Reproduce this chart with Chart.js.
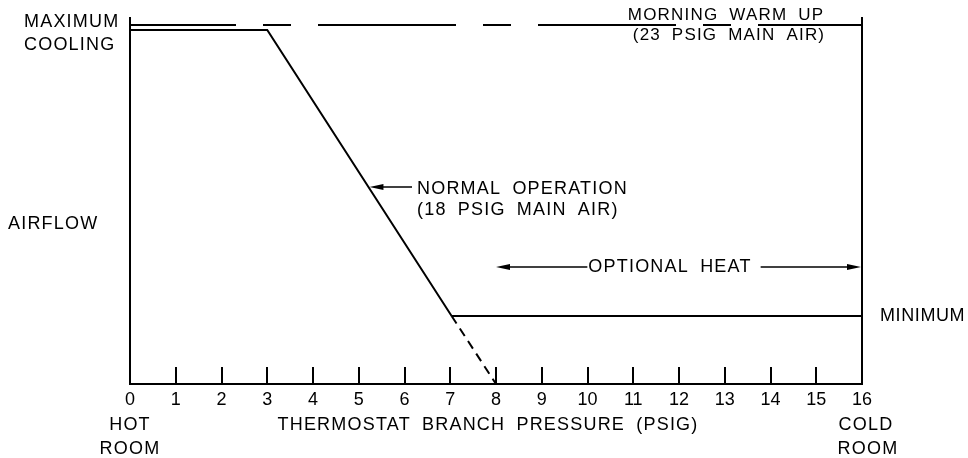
<!DOCTYPE html>
<html>
<head>
<meta charset="utf-8">
<script src="https://cdn.jsdelivr.net/npm/chart.js@4"></script>
<style>
  html, body { margin: 0; padding: 0; background: #fff; }
  #wrap { width: 968px; height: 458px; }
</style>
</head>
<body>
<div id="wrap"><canvas id="c" width="968" height="458"></canvas></div>
<script>
// ---- data ----
const xTickValues = [0, 1, 2, 3, 4, 5, 6, 7, 8, 9, 10, 11, 12, 13, 14, 15, 16];
const xTickLabels = ['0','1','2','3','4','5','6','7','8','9','10','11','12','13','14','15','16'];
// airflow in relative units 0..100
const normalX = [0, 3, 7.03];
const normalY = [96.7, 96.7, 18.6];
const extensionX = [7.03, 8];
const extensionY = [18.6, 0];
const minimumX = [7.03, 16];
const minimumY = [18.6, 18.6];
const warmUpX = [0, 16];
const warmUpY = [98.1, 98.1];
const optionalHeatRange = [8, 16];

const pts = (xs, ys) => xs.map((x, i) => ({ x, y: ys[i] }));

Chart.defaults.font.family = "'Liberation Sans', Arial, sans-serif";
Chart.defaults.color = '#000';

function arrowHead(ctx, x, y, dir) {
  ctx.beginPath();
  ctx.moveTo(x, y);
  ctx.lineTo(x - dir * 14, y - 3);
  ctx.lineTo(x - dir * 14, y + 3);
  ctx.closePath();
  ctx.fill();
}

const annot = {
  id: 'annot',
  afterDraw(chart) {
    const ctx = chart.ctx;
    const xs = chart.scales.x, ys = chart.scales.y;
    const area = chart.chartArea;
    ctx.save();
    ctx.strokeStyle = '#000';
    ctx.fillStyle = '#000';
    ctx.lineWidth = 2;
    // inward tick marks
    xTickValues.forEach(v => {
      if (v === 0 || v === 16) return;
      const px = Math.round(xs.getPixelForValue(v));
      ctx.beginPath();
      ctx.moveTo(px, area.bottom);
      ctx.lineTo(px, area.bottom - 17);
      ctx.stroke();
    });
    const text = (s, x, y, align, size, ls) => {
      ctx.font = (size || 18) + "px 'Liberation Sans', Arial, sans-serif";
      ctx.textAlign = align || 'left';
      ctx.textBaseline = 'middle';
      ctx.letterSpacing = (ls === undefined ? 1.2 : ls) + 'px';
      ctx.wordSpacing = '5px';
      ctx.fillText(s, x, y);
      return ctx.measureText(s).width;
    };
    // left labels
    text('MAXIMUM', 24, 22, 'left', 18);
    text('COOLING', 24, 45, 'left', 18);
    text('AIRFLOW', 8, 224, 'left', 18);
    // right label
    text('MINIMUM', 880, ys.getPixelForValue(minimumY[0]), 'left', 18, 0.6);
    // morning warm up
    text('MORNING WARM UP', 726, 15, 'center', 17);
    text('(23 PSIG MAIN AIR)', 729, 35, 'center', 17);
    // normal operation
    text('NORMAL OPERATION', 417, 189, 'left', 18);
    text('(18 PSIG MAIN AIR)', 417, 210, 'left', 18);
    const ay = 187;
    const frac = (ys.getPixelForValue(normalY[1]) - ay) / (ys.getPixelForValue(normalY[1]) - ys.getPixelForValue(normalY[2]));
    const tipX = xs.getPixelForValue(normalX[1] + frac * (normalX[2] - normalX[1]));
    ctx.lineWidth = 1.5;
    ctx.beginPath(); ctx.moveTo(tipX + 8, ay); ctx.lineTo(412, ay); ctx.stroke();
    arrowHead(ctx, tipX + 1, ay, -1);
    // optional heat
    const oy = 267;
    const x0 = xs.getPixelForValue(optionalHeatRange[0]);
    const x1 = xs.getPixelForValue(optionalHeatRange[1]);
    const w = text('OPTIONAL HEAT', 670, oy, 'center', 18);
    ctx.beginPath(); ctx.moveTo(x0 + 8, oy); ctx.lineTo(670 - w / 2 - 1, oy); ctx.stroke();
    ctx.beginPath(); ctx.moveTo(670 + w / 2 + 9, oy); ctx.lineTo(x1 - 8, oy); ctx.stroke();
    arrowHead(ctx, x0, oy, -1);
    arrowHead(ctx, x1 - 1, oy, 1);
    // bottom labels
    text('THERMOSTAT BRANCH PRESSURE (PSIG)', 488, 425, 'center', 18);
    text('HOT', xs.getPixelForValue(0), 425, 'center', 18);
    text('ROOM', xs.getPixelForValue(0), 449, 'center', 18);
    text('COLD', xs.getPixelForValue(16) + 4, 425, 'center', 18);
    text('ROOM', xs.getPixelForValue(16) + 6, 449, 'center', 18);
    ctx.restore();
  }
};

const line = (data, extra) => Object.assign({
  data, showLine: true, borderColor: '#000', borderWidth: 2,
  pointRadius: 0, fill: false, tension: 0, clip: false
}, extra || {});

new Chart(document.getElementById('c'), {
  type: 'scatter',
  data: {
    datasets: [
      line(pts(warmUpX, warmUpY), { borderDash: [138, 27, 28, 27], borderDashOffset: 32 }),
      line(pts(normalX, normalY)),
      line(pts(extensionX, extensionY), { borderDash: [9, 6] }),
      line(pts(minimumX, minimumY))
    ]
  },
  options: {
    responsive: false,
    animation: false,
    devicePixelRatio: 1,
    layout: { padding: { top: 18, left: 0, right: 0, bottom: 0 } },
    plugins: { legend: { display: false }, tooltip: { enabled: false } },
    scales: {
      x: {
        type: 'linear', min: 0, max: 16,
        afterBuildTicks: s => { s.ticks = xTickValues.map(v => ({ value: v })); },
        ticks: { font: { size: 18 }, padding: 5, maxRotation: 0, autoSkip: false,
                 callback: (v) => xTickLabels[xTickValues.indexOf(v)] },
        grid: { display: false, drawTicks: false },
        border: { display: true, color: '#000', width: 2 },
        afterFit: s => { s.height = 74; }
      },
      y: {
        type: 'linear', min: 0, max: 100, position: 'left',
        ticks: { display: false },
        grid: { display: false, drawTicks: false },
        border: { display: true, color: '#000', width: 2 },
        afterFit: s => { s.width = 130; }
      },
      y2: {
        type: 'linear', min: 0, max: 100, position: 'right',
        ticks: { display: false },
        grid: { display: false, drawTicks: false },
        border: { display: true, color: '#000', width: 2 },
        afterFit: s => { s.width = 106; }
      }
    }
  },
  plugins: [annot]
});
</script>
</body>
</html>
